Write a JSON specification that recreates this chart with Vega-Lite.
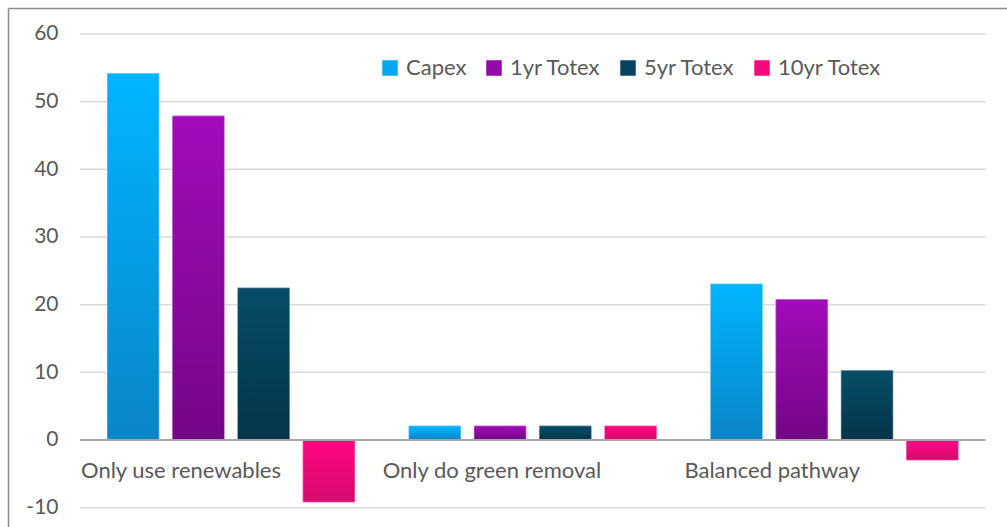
{
  "$schema": "https://vega.github.io/schema/vega-lite/v6.json",
  "autosize": "none",
  "padding": {"left": 8, "top": 8, "right": 0, "bottom": 0},
  "width": 999,
  "height": 519,
  "background": "#ffffff",
  "config": {
    "view": {"stroke": null},
    "font": "Lato"
  },
  "datasets": {
    "costs": [
      {"pathway": "Only use renewables", "measure": "Capex", "value": 54.2},
      {"pathway": "Only use renewables", "measure": "1yr Totex", "value": 47.9},
      {"pathway": "Only use renewables", "measure": "5yr Totex", "value": 22.5},
      {"pathway": "Only use renewables", "measure": "10yr Totex", "value": -9.2},
      {"pathway": "Only do green removal", "measure": "Capex", "value": 2.1},
      {"pathway": "Only do green removal", "measure": "1yr Totex", "value": 2.1},
      {"pathway": "Only do green removal", "measure": "5yr Totex", "value": 2.1},
      {"pathway": "Only do green removal", "measure": "10yr Totex", "value": 2.1},
      {"pathway": "Balanced pathway", "measure": "Capex", "value": 23.1},
      {"pathway": "Balanced pathway", "measure": "1yr Totex", "value": 20.8},
      {"pathway": "Balanced pathway", "measure": "5yr Totex", "value": 10.3},
      {"pathway": "Balanced pathway", "measure": "10yr Totex", "value": -3.0}
    ],
    "gridlines": [
      {"level": -10}, {"level": 10}, {"level": 20}, {"level": 30},
      {"level": 40}, {"level": 50}, {"level": 60}
    ]
  },
  "encoding": {
    "x": {
      "field": "pathway",
      "type": "nominal",
      "sort": null,
      "title": null,
      "scale": {
        "domain": ["Only use renewables", "Only do green removal", "Balanced pathway"],
        "paddingInner": 0.178,
        "paddingOuter": 0.2446,
        "align": 0.6707
      },
      "axis": {
        "orient": "top",
        "domain": true,
        "domainColor": "#8c8c8c",
        "domainWidth": 1.5,
        "ticks": false,
        "tickSize": 0,
        "labelAlign": "left",
        "labelBaseline": "middle",
        "labelOffset": -150,
        "labelPadding": -462,
        "labelFontSize": 22,
        "labelColor": "#595959",
        "labelFont": "Lato",
        "labelLimit": 400,
        "labelOverlap": false,
        "labelBound": false,
        "labelAngle": 0
      }
    },
    "y": {
      "type": "quantitative",
      "title": null,
      "scale": {"domain": [-12.86, 63.84], "nice": false, "zero": false},
      "axis": {
        "orient": "left",
        "domain": true,
        "domainColor": "#8c8c8c",
        "domainWidth": 1.5,
        "ticks": false,
        "tickSize": 0,
        "grid": false,
        "values": [-10, 0, 10, 20, 30, 40, 50, 60],
        "labelExpr": "'' + datum.value",
        "labelAlign": "right",
        "labelPadding": -50,
        "labelFontSize": 21,
        "labelColor": "#595959",
        "labelFont": "Lato",
        "labelOverlap": false
      }
    }
  },
  "layer": [
    {
      "data": {"name": "gridlines"},
      "mark": {"type": "rule", "color": "#d9d9d9", "strokeWidth": 1.5},
      "encoding": {
        "x": {"datum": "Only use renewables", "bandPosition": -0.109},
        "x2": {"datum": "Balanced pathway", "bandPosition": 1.109},
        "y": {"field": "level", "type": "quantitative"}
      }
    },
    {
      "data": {"name": "costs"},
      "layer": [
        {
          "mark": {"type": "bar"},
          "encoding": {
            "xOffset": {
              "field": "measure",
              "type": "nominal",
              "sort": null,
              "scale": {
                "domain": ["Capex", "1yr Totex", "5yr Totex", "10yr Totex"],
                "paddingInner": 0.2,
                "paddingOuter": 0
              }
            },
            "y": {"field": "value", "type": "quantitative"},
            "color": {
              "field": "measure",
              "type": "nominal",
              "sort": null,
              "scale": {
                "domain": ["Capex", "1yr Totex", "5yr Totex", "10yr Totex"],
                "range": ["#03a8f2", "#9309a9", "#064560", "#f40a7e"]
              },
              "legend": {
                "title": null,
                "orient": "none",
                "legendX": 371,
                "legendY": 49,
                "direction": "horizontal",
                "symbolType": "square",
                "symbolSize": 240,
                "symbolStrokeWidth": 0,
                "labelFontSize": 22,
                "labelFont": "Lato",
                "labelColor": "#595959",
                "labelOffset": 5,
                "columnPadding": 16,
                "labelLimit": 300
              }
            }
          }
        },
        {
          "transform": [{"filter": "datum.measure === 'Capex'"}],
          "mark": {
            "type": "bar",
            "stroke": "#ffffff",
            "strokeOpacity": 0.45,
            "strokeWidth": 1,
            "color": {
              "gradient": "linear", "x1": 0, "y1": 0, "x2": 0, "y2": 1,
              "stops": [{"offset": 0, "color": "#00b6ff"}, {"offset": 1, "color": "#0a85c8"}]
            }
          },
          "encoding": {
            "xOffset": {"field": "measure", "type": "nominal", "sort": null},
            "y": {"field": "value", "type": "quantitative"}
          }
        },
        {
          "transform": [{"filter": "datum.measure === '1yr Totex'"}],
          "mark": {
            "type": "bar",
            "stroke": "#ffffff",
            "strokeOpacity": 0.45,
            "strokeWidth": 1,
            "color": {
              "gradient": "linear", "x1": 0, "y1": 0, "x2": 0, "y2": 1,
              "stops": [{"offset": 0, "color": "#a20bba"}, {"offset": 1, "color": "#740686"}]
            }
          },
          "encoding": {
            "xOffset": {"field": "measure", "type": "nominal", "sort": null},
            "y": {"field": "value", "type": "quantitative"}
          }
        },
        {
          "transform": [{"filter": "datum.measure === '5yr Totex'"}],
          "mark": {
            "type": "bar",
            "stroke": "#ffffff",
            "strokeOpacity": 0.45,
            "strokeWidth": 1,
            "color": {
              "gradient": "linear", "x1": 0, "y1": 0, "x2": 0, "y2": 1,
              "stops": [{"offset": 0, "color": "#074d68"}, {"offset": 1, "color": "#04344a"}]
            }
          },
          "encoding": {
            "xOffset": {"field": "measure", "type": "nominal", "sort": null},
            "y": {"field": "value", "type": "quantitative"}
          }
        },
        {
          "transform": [{"filter": "datum.measure === '10yr Totex'"}],
          "mark": {
            "type": "bar",
            "stroke": "#ffffff",
            "strokeOpacity": 0.45,
            "strokeWidth": 1,
            "color": {
              "gradient": "linear", "x1": 0, "y1": 0, "x2": 0, "y2": 1,
              "stops": [{"offset": 0, "color": "#ff0582"}, {"offset": 1, "color": "#d60c6e"}]
            }
          },
          "encoding": {
            "xOffset": {"field": "measure", "type": "nominal", "sort": null},
            "y": {"field": "value", "type": "quantitative"}
          }
        }
      ]
    },
    {
      "data": {"values": [{"level": 0}]},
      "mark": {"type": "rule", "color": "#a6a6a6", "strokeWidth": 2},
      "encoding": {
        "x": {"datum": "Only use renewables", "bandPosition": -0.109},
        "x2": {"datum": "Balanced pathway", "bandPosition": 1.109},
        "y": {"field": "level", "type": "quantitative"}
      }
    }
  ]
}
